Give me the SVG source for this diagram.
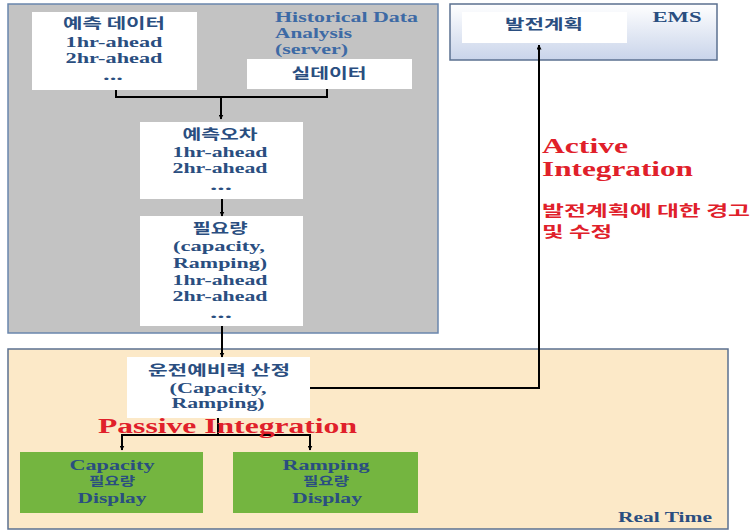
<svg xmlns="http://www.w3.org/2000/svg" width="755" height="531" viewBox="0 0 755 531">
<defs>
<linearGradient id="emsg" x1="0" y1="0" x2="0" y2="1">
<stop offset="0" stop-color="#ffffff"/><stop offset="1" stop-color="#c9d4ea"/>
</linearGradient>
<marker id="ah" viewBox="0 0 10 10" refX="9" refY="5" markerWidth="5" markerHeight="5" orient="auto-start-reverse" markerUnits="userSpaceOnUse">
<path d="M0,0 L10,5 L0,10 z" fill="#000"/>
</marker>
</defs>
<style>
.box{fill:#ffffff;}
.t{font-family:"Liberation Serif",serif;font-weight:bold;fill:#2a4e80;font-size:15px;text-anchor:middle;}
.k{font-family:"Noto Sans CJK KR","Noto Sans",sans-serif;font-weight:bold;fill:#2a4e80;font-size:14px;text-anchor:middle;}
.s{font-size:12px;}
.h{fill:#3d6aa5;text-anchor:start;}
.red{font-family:"Liberation Serif",serif;font-weight:bold;fill:#e0202a;font-size:20px;}
.redk{font-family:"Noto Sans CJK KR",sans-serif;font-weight:bold;fill:#e0202a;font-size:15px;}
.c{fill:none;stroke:#000;stroke-width:2;}
.green{fill:#74b540;}
</style>
<rect x="0" y="0" width="755" height="531" fill="#ffffff"/>
<g id="historical">
<rect x="8" y="4" width="430" height="329" fill="#c3c3c3" stroke="#6a86ad" stroke-width="1.5"/>
<text x="275" y="22" class="t h" textLength="143" lengthAdjust="spacingAndGlyphs">Historical Data</text>
<text x="275" y="38" class="t h" textLength="77" lengthAdjust="spacingAndGlyphs">Analysis</text>
<text x="275" y="54" class="t h" textLength="73" lengthAdjust="spacingAndGlyphs">(server)</text>
</g>
<g id="realtime">
<rect x="8" y="349" width="720" height="180" fill="#fce9c8" stroke="#5b7090" stroke-width="1.5"/>
<text x="618" y="522" class="t" style="text-anchor:start" textLength="94" lengthAdjust="spacingAndGlyphs">Real Time</text>
</g>
<g id="ems">
<rect x="450" y="4" width="267" height="56" fill="url(#emsg)" stroke="#5b7090" stroke-width="1.5"/>
<text x="677" y="22" class="t" textLength="49" lengthAdjust="spacingAndGlyphs">EMS</text>
<rect x="462" y="12" width="165" height="31" class="box"/>
<text x="544" y="29" class="k" textLength="78" lengthAdjust="spacingAndGlyphs">발전계획</text>
</g>
<g id="forecast-data">
<rect x="32" y="12" width="165" height="78" class="box"/>
<text x="114" y="28" class="k" textLength="102" lengthAdjust="spacingAndGlyphs">예측 데이터</text>
<text x="114" y="47" class="t" textLength="97" lengthAdjust="spacingAndGlyphs">1hr-ahead</text>
<text x="114" y="63" class="t" textLength="97" lengthAdjust="spacingAndGlyphs">2hr-ahead</text>
<text x="113" y="80" class="t" textLength="20" lengthAdjust="spacingAndGlyphs">...</text>
</g>
<g id="real-data">
<rect x="247" y="59" width="165" height="30" class="box"/>
<text x="329" y="78" class="k" textLength="75" lengthAdjust="spacingAndGlyphs">실데이터</text>
</g>
<g id="forecast-error">
<rect x="140" y="122" width="163" height="77" class="box"/>
<text x="220" y="139" class="k" textLength="75" lengthAdjust="spacingAndGlyphs">예측오차</text>
<text x="220" y="157" class="t" textLength="95" lengthAdjust="spacingAndGlyphs">1hr-ahead</text>
<text x="220" y="173" class="t" textLength="95" lengthAdjust="spacingAndGlyphs">2hr-ahead</text>
<text x="221" y="190" class="t" textLength="22" lengthAdjust="spacingAndGlyphs">...</text>
</g>
<g id="requirement">
<rect x="140" y="216" width="163" height="110" class="box"/>
<text x="220" y="233" class="k" textLength="55" lengthAdjust="spacingAndGlyphs">필요량</text>
<text x="219" y="251" class="t" textLength="92" lengthAdjust="spacingAndGlyphs">(capacity,</text>
<text x="220" y="268" class="t" textLength="94" lengthAdjust="spacingAndGlyphs">Ramping)</text>
<text x="220" y="285" class="t" textLength="95" lengthAdjust="spacingAndGlyphs">1hr-ahead</text>
<text x="220" y="301" class="t" textLength="95" lengthAdjust="spacingAndGlyphs">2hr-ahead</text>
<text x="221" y="318" class="t" textLength="22" lengthAdjust="spacingAndGlyphs">...</text>
</g>
<g id="reserve">
<rect x="127" y="357" width="183" height="61" class="box"/>
<text x="219" y="375" class="k" textLength="142" lengthAdjust="spacingAndGlyphs">운전예비력 산정</text>
<text x="218" y="393" class="t" textLength="97" lengthAdjust="spacingAndGlyphs">(Capacity,</text>
<text x="218" y="408" class="t" textLength="93" lengthAdjust="spacingAndGlyphs">Ramping)</text>
</g>
<g id="capacity-display">
<rect x="20" y="452" width="183" height="61" class="green"/>
<text x="112" y="470" class="t" textLength="85" lengthAdjust="spacingAndGlyphs">Capacity</text>
<text x="112" y="486" class="k s" textLength="46" lengthAdjust="spacingAndGlyphs">필요량</text>
<text x="112" y="503" class="t" textLength="69" lengthAdjust="spacingAndGlyphs">Display</text>
</g>
<g id="ramping-display">
<rect x="233" y="452" width="185" height="61" class="green"/>
<text x="326" y="470" class="t" textLength="87" lengthAdjust="spacingAndGlyphs">Ramping</text>
<text x="326" y="486" class="k s" textLength="46" lengthAdjust="spacingAndGlyphs">필요량</text>
<text x="327" y="503" class="t" textLength="70" lengthAdjust="spacingAndGlyphs">Display</text>
</g>
<g id="connectors">
<polyline points="116,90 116,97 327,97 327,89" class="c"/>
<line x1="221" y1="97" x2="221" y2="119" class="c" marker-end="url(#ah)"/>
<line x1="222" y1="199" x2="222" y2="216" class="c" marker-end="url(#ah)"/>
<line x1="222" y1="326" x2="222" y2="357" class="c" marker-end="url(#ah)"/>
<polyline points="218,418 218,435" class="c"/>
<polyline points="122,450 122,435 310,435 310,450" class="c" marker-start="url(#ah)" marker-end="url(#ah)"/>
<polyline points="310,388 539,388 539,45" class="c" marker-end="url(#ah)"/>
</g>
<g id="labels">
<text x="98" y="433" class="red" textLength="259" lengthAdjust="spacingAndGlyphs">Passive Integration</text>
<text x="542" y="153" class="red" textLength="86" lengthAdjust="spacingAndGlyphs">Active</text>
<text x="542" y="176" class="red" textLength="151" lengthAdjust="spacingAndGlyphs">Integration</text>
<text x="542" y="216" class="redk" textLength="208" lengthAdjust="spacingAndGlyphs">발전계획에 대한 경고</text>
<text x="542" y="237" class="redk" textLength="70" lengthAdjust="spacingAndGlyphs">및 수정</text>
</g>
</svg>
